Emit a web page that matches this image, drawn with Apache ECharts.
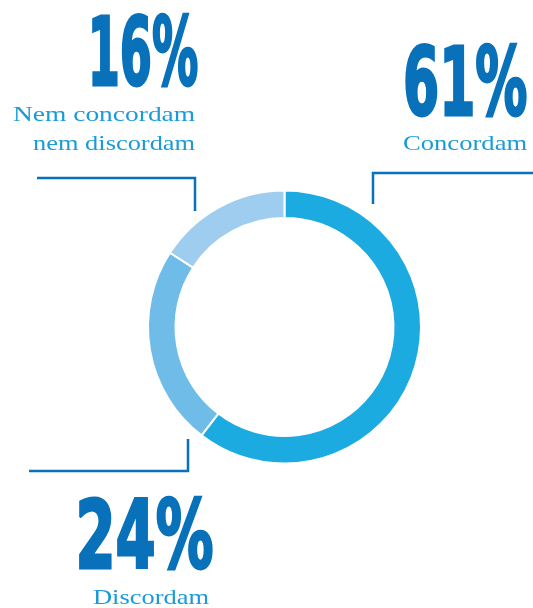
<!DOCTYPE html>
<html>
<head>
<meta charset="utf-8">
<script src="https://cdn.jsdelivr.net/npm/echarts@6/dist/echarts.min.js"></script>
<style>
  html, body { margin: 0; padding: 0; background: #fff; }
  #main { width: 533px; height: 608px; }
</style>
</head>
<body>
<div id="main"></div>
<script>
// dados
const categories = ['Concordam', 'Discordam', 'Nem concordam\nnem discordam'];
const values = [61, 24, 16];
const sliceColors = ['#1BABE1', '#6FBCE8', '#9FCDEF'];

// caixas (tinta) onde ficam os textos de cada fatia
const numberBoxes = [
  { l: 405, r: 527, t: 43, b: 117 },
  { l: 79, r: 213, t: 496, b: 570 },
  { l: 92, r: 198, t: 13, b: 87 }
];
const captionBoxes = [
  [{ l: 403, r: 527, base: 150 }],
  [{ l: 93, r: 209, base: 604 }],
  [{ l: 13, r: 195, base: 121 }, { l: 33, r: 195, base: 150 }]
];
const leaderLines = [
  [[373, 204], [373, 173], [533, 173]],
  [[188, 439], [188, 471], [29, 471]],
  [[195, 211], [195, 178], [37, 178]]
];

const numberFont = 'bold 100px "Liberation Sans Narrow", "DejaVu Sans Condensed", sans-serif';
const captionFont = '22px "Liberation Serif", "DejaVu Serif", serif';
const numberColor = '#0871BA';
const captionColor = '#1A9BD7';

const mctx = document.createElement('canvas').getContext('2d');
function fitText(str, font, fill, box, lw) {
  lw = lw || 0;
  mctx.font = font;
  mctx.textAlign = 'left';
  mctx.textBaseline = 'middle';
  const m = mctx.measureText(str);
  const sx = (box.r - box.l) / (m.actualBoundingBoxLeft + m.actualBoundingBoxRight + lw);
  const x = box.l + (m.actualBoundingBoxLeft + lw / 2) * sx;
  let sy = 1, y;
  if (box.t != null) {
    sy = (box.b - box.t) / (m.actualBoundingBoxAscent + m.actualBoundingBoxDescent + lw);
    y = box.t + (m.actualBoundingBoxAscent + lw / 2) * sy;
  } else {
    y = box.base - m.actualBoundingBoxDescent;
  }
  const style = { text: str, font: font, fill: fill, textAlign: 'left', textVerticalAlign: 'middle' };
  if (lw) {
    style.stroke = fill;
    style.lineWidth = lw;
    style.lineJoin = 'round';
  }
  return { type: 'text', x: x, y: y, scaleX: sx, scaleY: sy, silent: true, style: style };
}

const graphics = [];
values.forEach(function (v, i) {
  graphics.push(fitText(v + '%', numberFont, numberColor, numberBoxes[i], 3));
  categories[i].split('\n').forEach(function (line, j) {
    graphics.push(fitText(line, captionFont, captionColor, captionBoxes[i][j]));
  });
  graphics.push({
    type: 'polyline', silent: true,
    shape: { points: leaderLines[i] },
    style: { stroke: numberColor, lineWidth: 2.5, fill: null }
  });
});

const chart = echarts.init(document.getElementById('main'));
chart.setOption({
  animation: false,
  backgroundColor: '#fff',
  graphic: graphics,
  series: [{
    type: 'pie',
    center: [284.5, 327],
    radius: [109, 136.5],
    startAngle: 90,
    clockwise: true,
    label: { show: false },
    labelLine: { show: false },
    emphasis: { disabled: true },
    itemStyle: { borderColor: '#fff', borderWidth: 2 },
    data: values.map(function (v, i) {
      return { value: v, name: categories[i], itemStyle: { color: sliceColors[i] } };
    })
  }]
});
</script>
</body>
</html>
